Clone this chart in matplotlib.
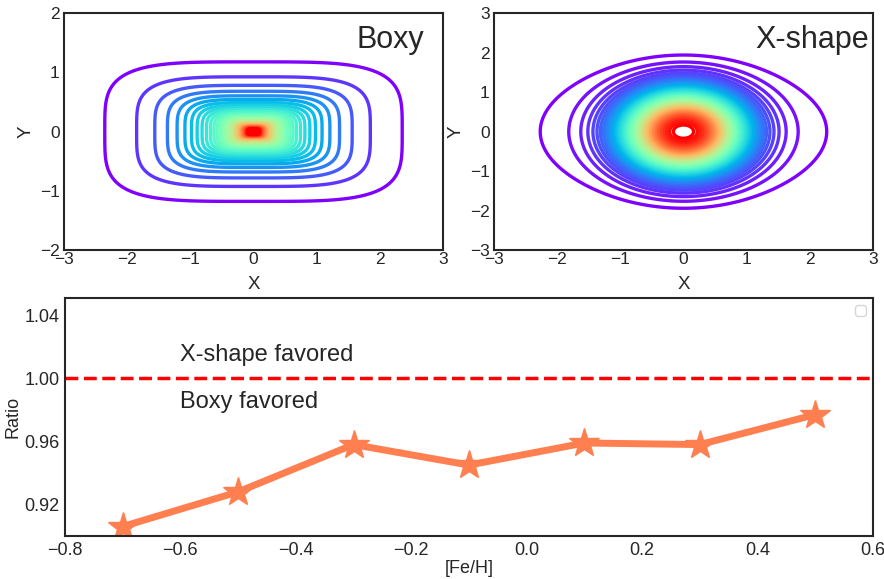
import numpy as np
import matplotlib.pyplot as plt
from matplotlib.colors import PowerNorm

plt.style.use('seaborn-v0_8-white')
plt.rcParams['font.family'] = ['Liberation Sans', 'DejaVu Sans']
plt.rcParams['axes.edgecolor'] = '#262626'
plt.rcParams['axes.linewidth'] = 1.5

# boxy model: log-like potential on super-ellipses
boxy_axis = 2.0        # x/y axis ratio
boxy_power = 4.0       # super-ellipse exponent
boxy_r0 = 0.82         # where the log profile flattens
boxy_m = 2.93
boxy_levels = np.arange(0.30, 4.6, 0.08)
boxy_vmax = 3.1
boxy_gamma = 0.75

# x-shape model: gaussian-like core + faint wide halo
xs_core_s = 0.92
xs_core_m = 2.21
xs_core_q = 1.05       # y stretch of the core
xs_halo_a = 0.035
xs_halo_r = 2.5
xs_halo_p = 6.0
xs_halo_q = 0.76       # y squash of the halo
xs_levels = np.arange(0.02, 0.99, 0.02)

# ratio vs metallicity
feh = [-0.7, -0.5, -0.3, -0.1, 0.1, 0.3, 0.5]
ratio = [0.906, 0.928, 0.958, 0.945, 0.959, 0.958, 0.977]

x = np.linspace(-3, 3, 801)
X, Y = np.meshgrid(x, x)

r_box = (np.abs(X / boxy_axis) ** boxy_power + np.abs(Y) ** boxy_power) ** (1 / boxy_power) + 1e-4
Z_box = -np.log(r_box) + np.log(1 + (r_box / boxy_r0) ** boxy_m) / boxy_m

r_core = np.sqrt(X ** 2 + (Y / xs_core_q) ** 2)
r_halo = np.sqrt(X ** 2 + (Y / xs_halo_q) ** 2)
Z_xs = (np.exp(-(r_core / xs_core_s) ** xs_core_m)
        + xs_halo_a * np.exp(-(r_halo / xs_halo_r) ** xs_halo_p)) / (1 + xs_halo_a)

fig = plt.figure(figsize=(8.84, 5.79), dpi=100)
ax1 = fig.add_axes([0.0724, 0.568, 0.4287, 0.4093])
ax2 = fig.add_axes([0.5588, 0.568, 0.4287, 0.4093])
ax3 = fig.add_axes([0.0735, 0.0743, 0.914, 0.411])

ax1.contour(X, Y, Z_box, levels=boxy_levels, cmap='rainbow', linewidths=2.4,
            norm=PowerNorm(boxy_gamma, vmin=boxy_levels[0], vmax=boxy_vmax))
ax1.set_xlim(-3, 3)
ax1.set_ylim(-2, 2)
ax1.set_xticks([-3, -2, -1, 0, 1, 2, 3])
ax1.set_yticks([-2, -1, 0, 1, 2])
ax1.text(0.95, 0.95, 'Boxy', transform=ax1.transAxes, ha='right', va='top',
         fontsize=22, color='#262626')

ax2.contour(X, Y, Z_xs, levels=xs_levels, cmap='rainbow', linewidths=2.4)
ax2.set_xlim(-3, 3)
ax2.set_ylim(-3, 3)
ax2.set_xticks([-3, -2, -1, 0, 1, 2, 3])
ax2.set_yticks([-3, -2, -1, 0, 1, 2, 3])
ax2.text(0.99, 0.95, 'X-shape', transform=ax2.transAxes, ha='right', va='top',
         fontsize=22, color='#262626')

for ax in (ax1, ax2):
    ax.set_xlabel('X', fontsize=13.5, labelpad=6)
    ax.set_ylabel('Y', fontsize=13.5)
    ax.tick_params(labelsize=12.5)
    ax.tick_params(axis='x', pad=1.5)
    ax.tick_params(axis='y', pad=3)

ax3.plot(feh, ratio, color='coral', lw=5, marker='*', ms=22)
ax3.axhline(1.0, color='red', ls='--', lw=2.5)
ax3.text(-0.6, 1.0148, 'X-shape favored', fontsize=17, va='center', color='#262626')
ax3.text(-0.6, 0.985, 'Boxy favored', fontsize=17, va='center', color='#262626')
ax3.set_xlim(-0.8, 0.6)
ax3.set_ylim(0.9, 1.051)
ax3.set_yticks([0.92, 0.96, 1.00, 1.04])
ax3.set_yticklabels(['0.92', '0.96', '1.00', '1.04'])
ax3.set_xlabel('[Fe/H]', fontsize=13, labelpad=1)
ax3.set_ylabel('Ratio', fontsize=13, labelpad=2)
ax3.tick_params(labelsize=13)
ax3.tick_params(axis='x', pad=4)
ax3.tick_params(axis='y', pad=4)
ax3.legend(handles=[], loc='upper right', frameon=True)

fig.savefig('out.png', dpi=100)
